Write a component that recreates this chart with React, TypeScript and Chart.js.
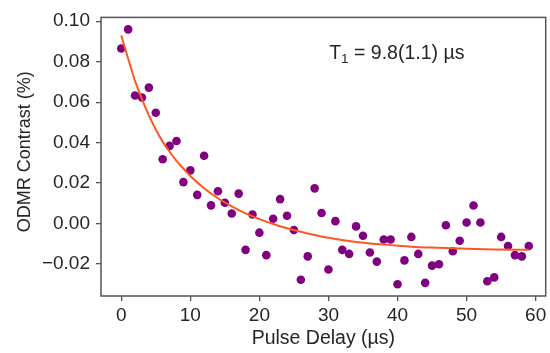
import React, { useEffect, useRef } from "react";
import { Chart, registerables } from "chart.js";

Chart.register(...registerables);

// Measured data: pulse delay (µs) and ODMR contrast (%)
const delays = [
  0, 1, 2, 3, 4, 5, 6, 7, 8, 9, 10, 11, 12, 13, 14, 15, 16, 17, 18, 19,
  20, 21, 22, 23, 24, 25, 26, 27, 28, 29, 30, 31, 32, 33, 34, 35, 36, 37, 38, 39,
  40, 41, 42, 43, 44, 45, 46, 47, 48, 49, 50, 51, 52, 53, 54, 55, 56, 57, 58, 59,
];
const contrast = [
  0.0865, 0.096, 0.0633, 0.0623, 0.0672, 0.0548, 0.0318, 0.0384, 0.0408, 0.0205,
  0.0263, 0.0142, 0.0335, 0.009, 0.016, 0.0103, 0.005, 0.0148, -0.013, 0.0045,
  -0.0045, -0.0156, 0.0024, 0.0121, 0.0039, -0.0032, -0.0278, -0.0162, 0.0174, 0.0052,
  -0.0227, 0.0012, -0.013, -0.015, -0.0014, -0.006, -0.0143, -0.0188, -0.0079, -0.0079,
  -0.03, -0.0182, -0.0066, -0.015, -0.0293, -0.0208, -0.0201, -0.0008, -0.0137, -0.0085,
  0.0005, 0.0089, 0.0005, -0.0285, -0.0266, -0.0066, -0.0111, -0.0156, -0.0162, -0.0111,
];

// Fit curve
const fitDelays = [0, 1, 2, 3, 4, 5, 6, 7, 8, 9, 10, 12, 14, 16, 18, 20, 23, 26, 30, 34, 38, 42, 46, 50, 54, 59];
const fitValues = [
  0.093, 0.0815, 0.0705, 0.0615, 0.0535, 0.0465, 0.0405, 0.0355, 0.031, 0.0272,
  0.0235, 0.0175, 0.0125, 0.0085, 0.005, 0.0022, -0.0013, -0.004, -0.007, -0.0091,
  -0.0104, -0.0114, -0.012, -0.0125, -0.0128, -0.013,
];

const xTicks = [0, 10, 20, 30, 40, 50, 60];
const yTicks = [-0.02, 0, 0.02, 0.04, 0.06, 0.08, 0.1];

const xTitle = "Pulse Delay (µs)";
const yTitle = "ODMR Contrast (%)";
const annoMain = "T";
const annoSub = "1";
const annoRest = " = 9.8(1.1) µs";

const FONT = "'Liberation Sans', Arial, Helvetica, sans-serif";
const TEXT = "#262626";
const SPINE = "#555555";

export default function App() {
  const ref = useRef<HTMLCanvasElement>(null);

  useEffect(() => {
    document.body.style.margin = "0";
    const canvas = ref.current;
    if (!canvas) return;

    const framePlugin = {
      id: "framePlugin",
      afterDatasetsDraw(chart: any) {
        const { ctx, chartArea: a } = chart;
        ctx.save();
        ctx.strokeStyle = SPINE;
        ctx.lineWidth = 1.5;
        ctx.strokeRect(a.left, a.top, a.right - a.left, a.bottom - a.top);

        // y-axis title
        ctx.save();
        ctx.translate(25, (a.top + a.bottom) / 2 - 5);
        ctx.rotate(-Math.PI / 2);
        ctx.fillStyle = TEXT;
        ctx.textAlign = "center";
        ctx.textBaseline = "middle";
        ctx.font = `18px ${FONT}`;
        ctx.fillText(yTitle, 0, 0);
        ctx.restore();

        // T1 annotation
        const xs = chart.scales.x;
        const ys = chart.scales.y;
        let px = xs.getPixelForValue(30.1);
        const py = ys.getPixelForValue(0.0814);
        ctx.fillStyle = TEXT;
        ctx.textAlign = "left";
        ctx.textBaseline = "alphabetic";
        ctx.font = `19.5px ${FONT}`;
        ctx.fillText(annoMain, px, py);
        px += ctx.measureText(annoMain).width;
        ctx.font = `13.5px ${FONT}`;
        ctx.fillText(annoSub, px, py + 4);
        px += ctx.measureText(annoSub).width;
        ctx.font = `19.5px ${FONT}`;
        ctx.fillText(annoRest, px, py);
        ctx.restore();
      },
    };

    const chart = new Chart(canvas, {
      type: "scatter",
      data: {
        datasets: [
          {
            type: "line",
            data: fitDelays.map((x, i) => ({ x, y: fitValues[i] })),
            borderColor: "#ff5722",
            borderWidth: 2,
            pointRadius: 0,
            cubicInterpolationMode: "monotone",
            fill: false,
            order: 0,
          } as any,
          {
            type: "scatter",
            data: delays.map((x, i) => ({ x, y: contrast[i] })),
            backgroundColor: "#800080",
            borderWidth: 0,
            pointRadius: 4.3,
            order: 1,
          },
        ],
      },
      options: {
        animation: false,
        responsive: false,
        events: [],
        layout: { padding: { left: 0, right: 3, top: 11, bottom: 0 } },
        plugins: { legend: { display: false }, tooltip: { enabled: false } },
        scales: {
          x: {
            type: "linear",
            min: -2.93,
            max: 61.45,
            afterBuildTicks: (s: any) => {
              s.ticks = xTicks.map((v) => ({ value: v }));
            },
            afterFit: (s: any) => {
              s.height = 57;
            },
            border: { display: false },
            grid: { drawOnChartArea: false, drawTicks: true, tickLength: 5, color: SPINE, lineWidth: 1.3 },
            ticks: {
              autoSkip: false,
              maxRotation: 0,
              padding: 3,
              color: TEXT,
              font: { family: FONT, size: 19 },
              callback: (v: any) => String(v),
            },
            title: {
              display: true,
              text: xTitle,
              color: TEXT,
              font: { family: FONT, size: 19.5 },
              padding: { top: 0, bottom: 3 },
            },
          },
          y: {
            type: "linear",
            min: -0.0358,
            max: 0.1019,
            afterBuildTicks: (s: any) => {
              s.ticks = yTicks.map((v) => ({ value: v }));
            },
            afterFit: (s: any) => {
              s.width = 101;
            },
            border: { display: false },
            grid: { drawOnChartArea: false, drawTicks: true, tickLength: 5, color: SPINE, lineWidth: 1.3 },
            ticks: {
              autoSkip: false,
              padding: 6,
              color: TEXT,
              font: { family: FONT, size: 19 },
              callback: (v: any) => {
                const n = Number(v);
                return n < 0 ? "\u2212" + Math.abs(n).toFixed(2) : n.toFixed(2);
              },
            },
            title: { display: false },
          },
        },
      },
      plugins: [framePlugin],
    });

    return () => chart.destroy();
  }, []);

  return <canvas ref={ref} width={550} height={353} style={{ display: "block" }} />;
}
